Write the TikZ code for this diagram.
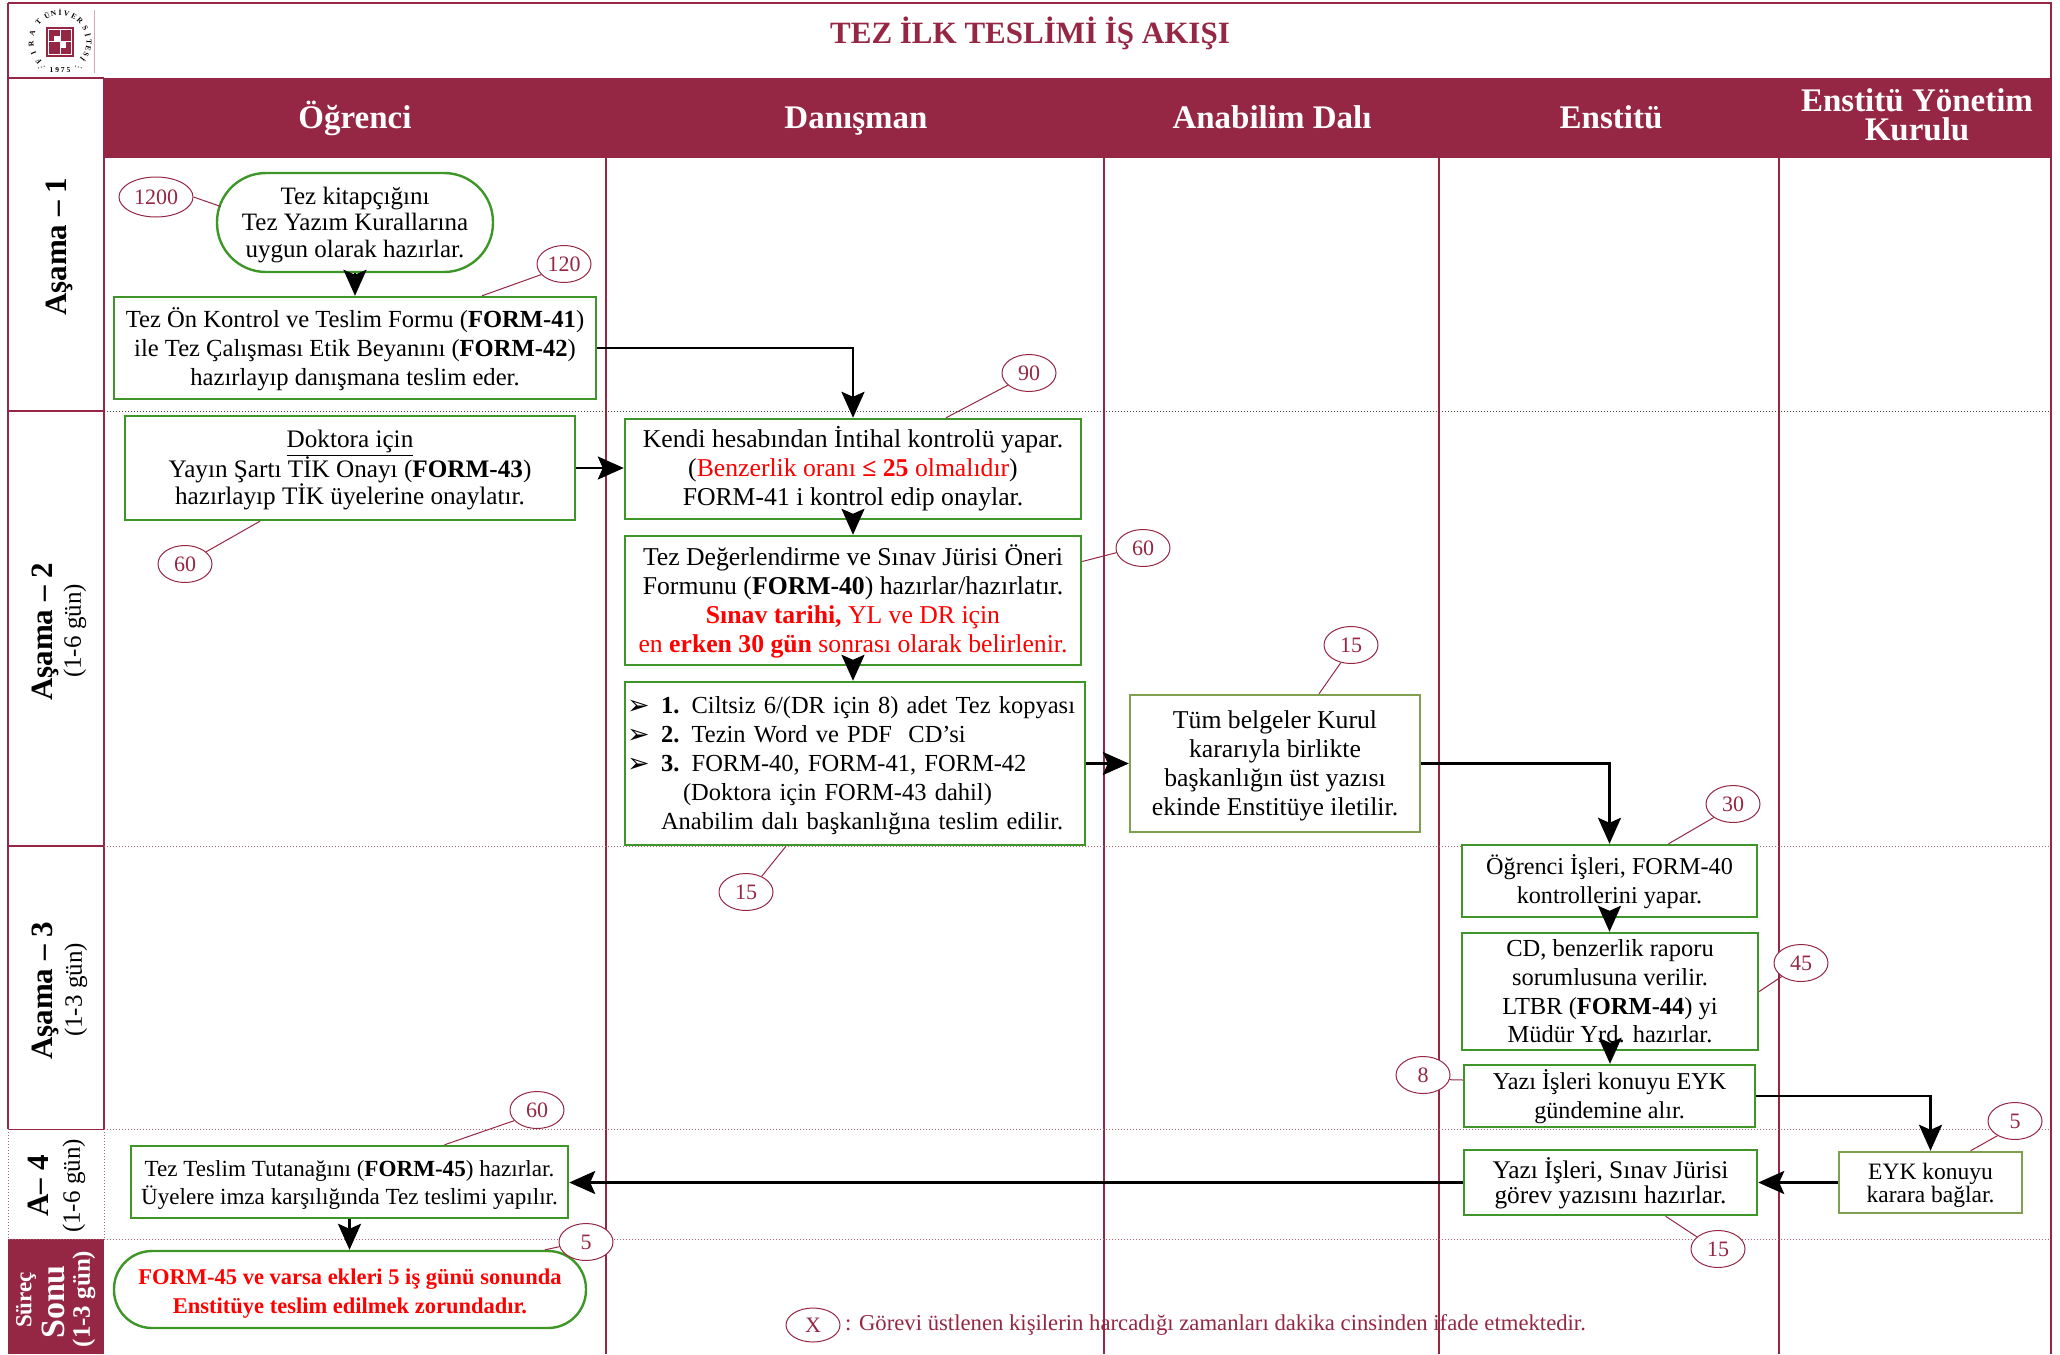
\documentclass[tikz,border=0pt]{standalone}
\usepackage{fontspec}
\setmainfont{Liberation Serif}
\newfontfamily\symfont{DejaVu Sans}
\usetikzlibrary{arrows.meta,shapes.geometric}
\definecolor{burg}{RGB}{150,39,68}
\definecolor{gbox}{RGB}{62,150,40}
\definecolor{gsoft}{RGB}{128,160,80}
\definecolor{dotc}{RGB}{176,96,112}
\newcommand{\bsize}[1]{\fontsize{#1}{29}\selectfont}
\newcommand{\dn}{\rule{0pt}{22pt}}
\newcommand{\bul}{\makebox[34pt][l]{\raisebox{-1pt}{\symfont\fontsize{27}{27}\selectfont ➢}}}
\tikzset{
  x=1pt,y=-1pt,
  stepbox/.style={draw=gbox,line width=2.4pt,fill=white,inner sep=0pt,align=center,font=\bsize{24.6}},
  softbox/.style={stepbox,draw=gsoft},
  roundbox/.style={stepbox,rounded corners=49pt},
  est/.style={draw=burg,fill=white,ellipse,line width=1pt,inner sep=0pt,minimum width=54pt,minimum height=37pt,text=burg,font=\fontsize{22}{22}\selectfont},
  lead/.style={draw=burg,line width=1pt},
  flow/.style={draw=black,line width=2.8pt,-{Stealth[length=26pt,width=23pt,inset=5pt]}},
  rule/.style={draw=burg,line width=2.2pt},
  col/.style={draw=burg,line width=1.6pt},
  dotsep/.style={draw=dotc,line width=1pt,dotted},
  hdr/.style={text=white,font=\bfseries\fontsize{33}{29}\selectfont,align=center,inner sep=0pt},
  stage/.style={rotate=90,font=\bfseries\fontsize{31}{31}\selectfont,inner sep=0pt},
  days/.style={rotate=90,font=\fontsize{25}{25}\selectfont,inner sep=0pt},
  logotxt/.style={text=black,inner sep=0pt,font=\bfseries\fontsize{7.5}{7.5}\selectfont},
}
\begin{document}
\begin{tikzpicture}
\useasboundingbox (0,0) rectangle (2060,1354);
% header band and frame
\fill[burg] (104,78) rectangle (2051,158);
\fill[burg] (8,1239) rectangle (104,1354);
\draw[rule] (8,3) -- (2051,3) -- (2051,1354);
\draw[rule] (8,3) -- (8,1129);
\draw[rule] (8,78) -- (104,78);
\draw[rule] (104,78) -- (104,1129);
\draw[rule] (8,411) -- (104,411);
\draw[rule] (8,846) -- (104,846);
\draw[draw=burg,line width=1pt] (8,1129) -- (104,1129);
\draw[dotsep] (8,1129) -- (8,1239) -- (104,1239) -- (104,1129);
% lanes
\foreach \cx in {606,1104,1439,1779}{\draw[col] (\cx,158) -- (\cx,1354);}
% phase separators
\draw[draw=black!75,line width=1pt,dotted] (104,411) -- (2051,411);
\draw[dotsep] (104,846) -- (2051,846);
\draw[dotsep] (104,1129) -- (2051,1129);
\draw[dotsep] (104,1239) -- (2051,1239);
% logo
\draw[draw=burg!40,line width=.6pt] (94,10) -- (94,73);
\fill[burg] (46,27) rectangle (74,57);
\draw[white,line width=1pt] (48.5,29.5) rectangle (71.5,54.5);
\draw[white,line width=1pt] (60,29.5) -- (60,54.5);
\draw[white,line width=1pt] (48.5,42) -- (71.5,42);
\fill[white] (54,36) rectangle (60,42);
\fill[white] (60,42) rectangle (66,48);
\foreach \ang/\ch in {222/F,204/I,185/R,163/A,138/T,117/Ü,103/N,90/İ,77/V,61/E,46/R,29/S,14/İ,0/T,-13/E,-26/S,-37/İ}{
  \node[logotxt,rotate=\ang-90] at ({60+29*cos(\ang)},{41.7-29*sin(\ang)}) {\ch};
}
\node[logotxt] (logoyear) at (60,70) {1 9 7 5};
\draw[black!70,line width=1pt,dotted] (38,68) -- (45,66);
\draw[black!70,line width=1pt,dotted] (75,66) -- (82,68);
% title and headers
\node[text=burg,font=\bfseries\fontsize{31}{31}\selectfont,inner sep=0pt] (title) at (1030,33) {TEZ İLK TESLİMİ İŞ AKIŞI};
\node[hdr,anchor=base] (h1) at (355,128) {Öğrenci};
\node[hdr,anchor=base] (h2) at (856,128) {Danışman};
\node[hdr,anchor=base] (h3) at (1272,128) {Anabilim Dalı};
\node[hdr,anchor=base] (h4) at (1611,128) {Enstitü};
\node[hdr] (h5) at (1917,115) {Enstitü Yönetim\\Kurulu};
% stages
\node[stage] (s1) at (59,247) {Aşama – 1};
\node[stage] (s2) at (45,632) {Aşama – 2};
\node[days] (s2d) at (75,631) {(1-6 gün)};
\node[stage] (s3) at (45,991) {Aşama – 3};
\node[days] (s3d) at (76,990) {(1-3 gün)};
\node[stage] (s4) at (38,1186) {A– 4};
\node[days] (s4d) at (74,1186) {(1-6 gün)};
\node[rotate=90,text=white,inner sep=0pt,font=\bfseries\fontsize{23}{23}\selectfont] (s5a) at (26,1300) {Süreç};
\node[rotate=90,text=white,inner sep=0pt,font=\bfseries\fontsize{34}{34}\selectfont] (s5b) at (53,1302) {Sonu};
\node[rotate=90,text=white,inner sep=0pt,font=\bfseries\fontsize{25}{25}\selectfont] (s5c) at (84,1299) {(1-3 gün)};
% process boxes
\node[roundbox,minimum width=276pt,minimum height=99pt,font=\fontsize{25}{26.5}\selectfont] (start) at (355,222.5) {\rule{0pt}{22pt}Tez kitapçığını\\Tez Yazım Kurallarına\\uygun olarak hazırlar.};
\node[stepbox,minimum width=482pt,minimum height=102pt] (b1) at (355,348) {\dn Tez Ön Kontrol ve Teslim Formu (\textbf{FORM-41})\\ile Tez Çalışması Etik Beyanını (\textbf{FORM-42})\\hazırlayıp danışmana teslim eder.};
\node[stepbox,minimum width=450pt,minimum height=104pt,font=\fontsize{25.2}{27.5}\selectfont] (b2) at (350,468) {\dn\underline{Doktora için}\\Yayın Şartı TİK Onayı (\textbf{FORM-43})\\hazırlayıp TİK üyelerine onaylatır.};
\node[stepbox,minimum width=456pt,minimum height=100pt,font=\bsize{25.7}] (b3) at (853,469) {Kendi hesabından İntihal kontrolü yapar.\\(\textcolor{red}{Benzerlik oranı \textbf{≤ 25} olmalıdır})\\FORM-41 i kontrol edip onaylar.};
\node[stepbox,minimum width=456pt,minimum height=129pt,font=\bsize{25.7}] (b4) at (853,600.5) {\dn Tez Değerlendirme ve Sınav Jürisi Öneri\\Formunu (\textbf{FORM-40}) hazırlar/hazırlatır.\\\textcolor{red}{\textbf{Sınav tarihi,} YL ve DR için}\\\textcolor{red}{en \textbf{erken 30 gün} sonrası olarak belirlenir.}};
\node[stepbox,align=left,text width=456pt,inner xsep=2pt,minimum height=163pt,font=\bsize{24.5}] (b5) at (855,763.5) {\dn\bul\textbf{1.} Ciltsiz 6/(DR için 8) adet Tez kopyası\\\bul\textbf{2.} Tezin Word ve PDF\ \ CD’si\\\bul\textbf{3.} FORM-40, FORM-41, FORM-42\\\hspace*{56pt}(Doktora için FORM-43 dahil)\\\hspace*{34pt}Anabilim dalı başkanlığına teslim edilir.};
\node[softbox,minimum width=290pt,minimum height=137pt,font=\bsize{25.7}] (b6) at (1275,763.5) {\dn Tüm belgeler Kurul\\kararıyla birlikte\\başkanlığın üst yazısı\\ekinde Enstitüye iletilir.};
\node[stepbox,minimum width=295pt,minimum height=72pt,font=\bsize{24.2}] (b7) at (1609.5,881) {\dn Öğrenci İşleri, FORM-40\\kontrollerini yapar.};
\node[stepbox,minimum width=296pt,minimum height=117pt,font=\fontsize{24.5}{28.7}\selectfont] (b8) at (1610,991.5) {CD, benzerlik raporu\\sorumlusuna verilir.\\LTBR (\textbf{FORM-44}) yi\\Müdür Yrd. hazırlar.};
\node[stepbox,minimum width=291pt,minimum height=62pt,font=\bsize{24.2}] (b9) at (1609.5,1096) {\dn Yazı İşleri konuyu EYK\\gündemine alır.};
\node[stepbox,minimum width=293pt,minimum height=65pt,font=\fontsize{25.4}{24.5}\selectfont] (b10) at (1610.5,1182.5) {\dn Yazı İşleri, Sınav Jürisi\\görev yazısını hazırlar.};
\node[softbox,minimum width=183pt,minimum height=61pt,font=\fontsize{23.5}{23}\selectfont] (b11) at (1930.5,1182.5) {\dn EYK konuyu\\karara bağlar.};
\node[stepbox,minimum width=437pt,minimum height=72pt,font=\fontsize{23.1}{28}\selectfont] (b12) at (349.5,1182) {\dn Tez Teslim Tutanağını (\textbf{FORM-45}) hazırlar.\\Üyelere imza karşılığında Tez teslimi yapılır.};
\node[roundbox,minimum width=472pt,minimum height=77pt,rounded corners=38pt,text=red,font=\bfseries\fontsize{22.5}{29}\selectfont] (end) at (350,1289.5) {\rule{0pt}{24pt}FORM-45 ve varsa ekleri 5 iş günü sonunda\\Enstitüye teslim edilmek zorundadır.};
% minute tags
\node[est,minimum width=74pt,minimum height=40pt] (e1200) at (156,197) {1200};
\node[est] (e120) at (564,264) {120};
\node[est] (e90) at (1029,373) {90};
\node[est] (e60a) at (185,564) {60};
\node[est] (e60b) at (1143,548) {60};
\node[est] (e15a) at (1351,645) {15};
\node[est] (e15b) at (746,892) {15};
\node[est] (e30) at (1733,804) {30};
\node[est] (e45) at (1801,963) {45};
\node[est] (e8) at (1423,1075) {8};
\node[est] (e5a) at (2015,1121) {5};
\node[est] (e15c) at (1718,1249) {15};
\node[est] (e60c) at (537,1110) {60};
\node[est] (e5b) at (586,1242) {5};
\node[est,minimum height=34pt] (ex) at (813,1325) {X};
\node[anchor=west,text=burg,inner sep=0pt,font=\fontsize{22.7}{22}\selectfont] (note) at (845,1325) {: Görevi üstlenen kişilerin harcadığı zamanları dakika cinsinden ifade etmektedir.};
% leaders
\draw[lead] (e1200.east) -- ([xshift=5pt,yshift=16pt]start.west);
\draw[lead] (e120.205) -- ([xshift=127pt]b1.north);
\draw[lead] (e90.210) -- ([xshift=93pt]b3.north);
\draw[lead] (e60a.30) -- ([xshift=-90pt]b2.south);
\draw[lead] (e60b.190) -- ([yshift=39pt]b4.east);
\draw[lead] (e15a.240) -- ([xshift=44pt]b6.north);
\draw[lead] (e15b.45) -- ([xshift=-69pt]b5.south);
\draw[lead] (e30.215) -- ([xshift=59pt]b7.north);
\draw[lead] (e45.215) -- (b8.east);
\draw[lead] (e8.-10) -- ([yshift=16pt]b9.west);
\draw[lead] (e5a.220) -- ([xshift=40pt]b11.north);
\draw[lead] (e15c.150) -- ([xshift=55pt]b10.south);
\draw[lead] (e60c.205) -- ([xshift=95pt]b12.north);
\draw[lead] (e5b.190) -- ([xshift=195pt]end.north);
% flow
\draw[flow] (start.south) -- (b1.north);
\draw[flow] (b1.east) -| (b3.north);
\draw[flow] (b2.east) -- (b2.east -| b3.west);
\draw[flow] (b3.south) -- (b4.north);
\draw[flow] (b4.south) -- (b4.south |- b5.north);
\draw[flow] (b5.east) -- (b6.west);
\draw[flow] (b6.east) -| (b7.north);
\draw[flow] (b7.south) -- (b7.south |- b8.north);
\draw[flow] (b8.south) -- (b8.south |- b9.north);
\draw[flow] (b9.east) -| (b11.north);
\draw[flow] (b11.west) -- (b10.east);
\draw[flow] (b10.west) -- (b10.west -| b12.east);
\draw[flow] (b12.south) -- (b12.south |- end.north);
\end{tikzpicture}
\end{document}
